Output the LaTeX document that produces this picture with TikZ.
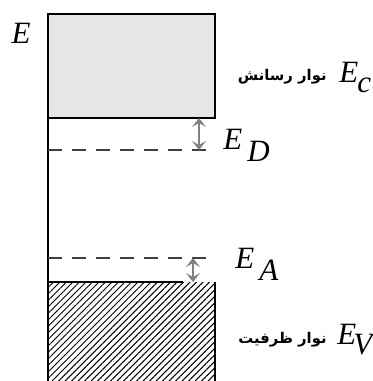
\documentclass[tikz,border=0pt]{standalone}
\usepackage{fontspec}
\setmainfont{Liberation Serif}[ItalicFont={Liberation Serif Italic}]
\newfontfamily\farsifont[Script=Arabic]{DejaVu Sans}
\TeXXeTstate=1
\usepackage{tikz}
\usetikzlibrary{positioning,arrows.meta,patterns.meta}
\definecolor{bdfill} {HTML}{E6E6E6}
\definecolor{bdgap}  {HTML}{808080}
\definecolor{bdline} {HTML}{000000}
\newcommand{\lvl}[3]{\textit{E}\hspace{#3}\raisebox{#2}{\textit{#1}}}
\tikzset{
  band/.style={draw=bdline, line width=1.1pt},
  level/.style={draw=bdline!75, line width=0.6pt, dash pattern=on 7pt off 5pt},
  gap/.style={draw=bdgap, line width=0.9pt, {Stealth[length=4.5pt,width=7pt,inset=2pt]}-{Stealth[length=4.5pt,width=7pt,inset=2pt]}},
  elabel/.style={font=\fontsize{15.5}{16}\selectfont, inner sep=0pt},
  farsi/.style={font=\farsifont\bfseries\fontsize{7.4}{8}\selectfont, inner sep=0pt}
}
\begin{document}
\begin{tikzpicture}[x=0.5pt, y=-0.5pt]
          \useasboundingbox (0,0) rectangle (373,381);
          % conduction band
          \filldraw[band, fill=bdfill] (48,14) rectangle (215,118);
          % valence band
          \fill[pattern={Lines[angle=45, distance=2.3pt, line width=0.5pt]}] (48,282) rectangle (215,381);
          \draw[band] (48,381) -- (48,282) -- (183,282);
          \draw[band] (215,282) -- (215,381);
          \draw[line width=0.6pt] (48,118) -- (48,282);
          % impurity levels
          \coordinate (d0) at (48,150);
          \coordinate (d1) at (206,150);
          \coordinate (a0) at (48,258);
          \coordinate (a1) at (214,258);
          \draw[level] (d0) -- (d1);
          \draw[level] (a0) -- (a1);
          \coordinate (dtop) at (199,118);
          \coordinate (dbot) at (199,150);
          \coordinate (atop) at (193,258);
          \coordinate (abot) at (193,282);
          \draw[gap] (dtop) -- (dbot);
          \draw[gap] (atop) -- (abot);
          % labels
          \node[elabel] (e) at (21,33) {\textit{E}};
          \node[elabel, anchor=west] (ec) at (339,77) {\lvl{c}{-5pt}{-0.5pt}};
          \node[elabel, anchor=west] (ed) at (223,145) {\lvl{D}{-6pt}{2.5pt}};
          \node[elabel, anchor=west] (ea) at (235,264) {\lvl{A}{-6pt}{2.5pt}};
          \node[elabel, anchor=west] (ev) at (337,340) {\lvl{V}{-5pt}{-1.5pt}};
          \node[farsi, left=6pt of ec.west] (cb) {\beginR نوار رسانش\endR};
          \node[farsi, left=5pt of ev.west] (vb) {\beginR نوار ظرفیت\endR};
\end{tikzpicture}
\end{document}
